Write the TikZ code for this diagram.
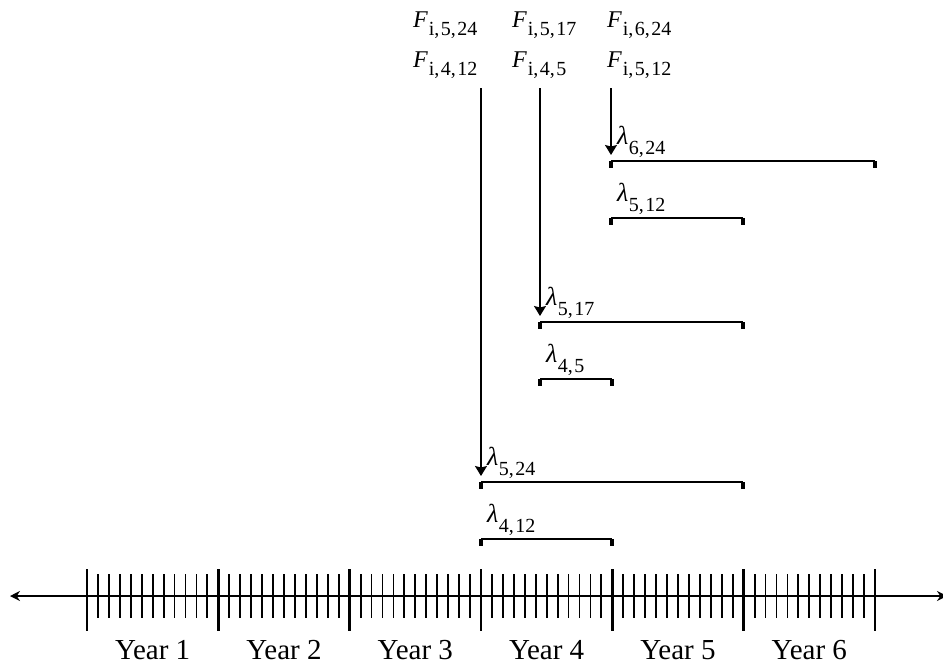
\documentclass[tikz,border=0pt]{standalone}
\usepackage{fontspec}
\setmainfont{Liberation Serif}
\usetikzlibrary{arrows.meta}
\newcommand\Fsym[1]{{\fontsize{24}{24}\selectfont\itshape F}\kern1pt\raisebox{-8pt}{\fontsize{20}{20}\selectfont #1}}
\newcommand\Lsym[1]{{\fontsize{26}{26}\selectfont\itshape λ}\kern0.5pt\raisebox{-10pt}{\fontsize{20}{20}\selectfont #1}}
\newcommand\cm{,\kern1.5pt}
\begin{document}
\begin{tikzpicture}[x=1pt,y=-1pt,
  axis/.style={line width=2pt},
  major/.style={line width=2.8pt},
  minor/.style={line width=1.8pt},
  span/.style={line width=1.9pt},
  spanend/.style={line width=3.2pt},
  drop/.style={line width=1.5pt,-{Stealth[length=10pt,width=12pt,inset=1.5pt]}},
  lab/.style={anchor=base west,inner sep=0pt},
  yr/.style={anchor=base,inner sep=0pt,font=\fontsize{29}{29}\selectfont}]
\useasboundingbox (0,0) rectangle (943,670);

% timeline
\coordinate (tl) at (10,596);
\coordinate (tr) at (947,596);
\draw[axis,{Stealth[length=10pt,width=10pt]}-{Stealth[length=10pt,width=10pt]}] (tl) -- (tr);
\foreach \k in {0,...,6}{
  \draw[major] ({87+\k*131.333},569) -- ({87+\k*131.333},631);
}
\foreach \k in {0,...,5}{
  \foreach \m in {1,...,11}{
    \draw[minor] ({87+\k*131.333+\m*10.944},574) -- ({87+\k*131.333+\m*10.944},618);
  }
  \pgfmathtruncatemacro{\yy}{\k+1}
  \node[yr] (year\yy) at ({87+\k*131.333+65.67},659) {Year \yy};
}

% F labels
\node[lab] (F524) at (413,27) {\Fsym{i\cm5\cm24}};
\node[lab] (F412) at (413,67) {\Fsym{i\cm4\cm12}};
\node[lab] (F517) at (512,27) {\Fsym{i\cm5\cm17}};
\node[lab] (F45)  at (512,67) {\Fsym{i\cm4\cm5}};
\node[lab] (F624) at (607,27) {\Fsym{i\cm6\cm24}};
\node[lab] (F512) at (607,67) {\Fsym{i\cm5\cm12}};

% arrows
\coordinate (a1s) at (481,88); \coordinate (a1e) at (481,476);
\coordinate (a2s) at (540,88); \coordinate (a2e) at (540,316);
\coordinate (a3s) at (611,88); \coordinate (a3e) at (611,155);
\draw[drop] (a1s) -- (a1e);
\draw[drop] (a2s) -- (a2e);
\draw[drop] (a3s) -- (a3e);

% brackets
\foreach \nm/\xa/\xb/\yy in {b624/611/875/161, b512/611/743/218, b517/540/743/322, b45/540/612/379, b524/481/743/482, b412/481/612/539}{
  \coordinate (\nm a) at (\xa,\yy);
  \coordinate (\nm b) at (\xb,\yy);
  \draw[span] (\nm a) -- (\nm b);
  \draw[spanend] (\nm a) -- ++(0,7);
  \draw[spanend] (\nm b) -- ++(0,7);
}

% lambda labels
\node[lab] (L624) at (617,144) {\Lsym{6\cm24}};
\node[lab] (L512) at (617,201) {\Lsym{5\cm12}};
\node[lab] (L517) at (546,305) {\Lsym{5\cm17}};
\node[lab] (L45)  at (546,362) {\Lsym{4\cm5}};
\node[lab] (L524) at (487,465) {\Lsym{5\cm24}};
\node[lab] (L412) at (487,522) {\Lsym{4\cm12}};
\end{tikzpicture}
\end{document}
